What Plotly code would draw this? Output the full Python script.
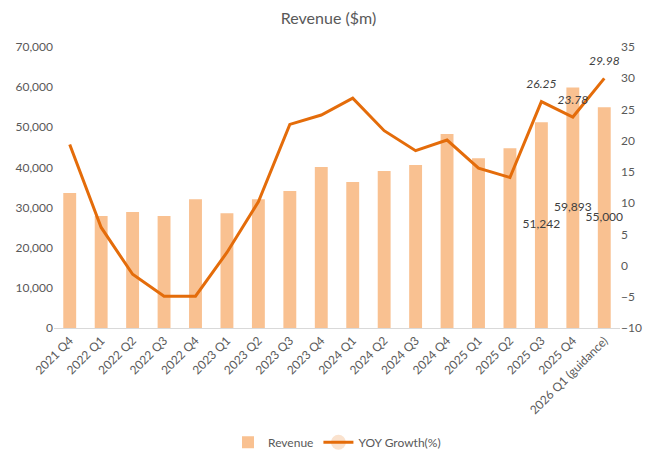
import plotly.graph_objects as go

quarters = ["2021 Q4", "2022 Q1", "2022 Q2", "2022 Q3", "2022 Q4", "2023 Q1", "2023 Q2",
            "2023 Q3", "2023 Q4", "2024 Q1", "2024 Q2", "2024 Q3", "2024 Q4", "2025 Q1",
            "2025 Q2", "2025 Q3", "2025 Q4", "2026 Q1 (guidance)"]
revenue = [33600, 27900, 28900, 27900, 32100, 28600, 32100, 34100, 40100, 36400,
           39100, 40600, 48300, 42300, 44800, 51242, 59893, 55000]
yoy = [19.4, 6.1, -1.4, -4.9, -4.9, 2.1, 10.2, 22.6, 24.1, 26.8, 21.6, 18.4, 20.1,
       15.6, 14.1, 26.25, 23.78, 29.98]
labelled = 15  # index from which values are labelled
yoy_labels = ["" for _ in range(labelled)] + [f"{v:.2f}" for v in yoy[labelled:]]

FONT = "Lato"
GREY = "#595959"

fig = go.Figure()
fig.add_trace(go.Bar(
    x=quarters, y=revenue, name="Revenue",
    marker=dict(color="#F9C191", line=dict(width=0)),
))
# revenue data labels, centred in the bar (Excel "center" label position)
fig.add_trace(go.Scatter(
    x=quarters[labelled:], y=[v / 2 for v in revenue[labelled:]],
    text=[f"{v:,}" for v in revenue[labelled:]], mode="text", textposition="middle center",
    textfont=dict(color="#404040", size=12, family=FONT), showlegend=False,
    cliponaxis=False, hoverinfo="skip",
))
fig.add_trace(go.Scatter(
    x=quarters, y=yoy, name="YOY Growth(%)", yaxis="y2", mode="lines+markers+text",
    line=dict(color="#E46C0A", width=3),
    marker=dict(size=15, opacity=0, color="#E46C0A"),
    text=yoy_labels, textposition="top center", cliponaxis=False,
    textfont=dict(color="#404040", size=12, family=FONT, style="italic"),
))

fig.update_layout(
    width=657, height=454,
    margin=dict(l=54, r=37, t=47, b=126, autoexpand=False),
    paper_bgcolor="white", plot_bgcolor="white",
    font=dict(family=FONT, color=GREY, size=12),
    title=dict(text="Revenue ($m)", x=0.5, xanchor="center", y=0.96, yanchor="middle",
               font=dict(size=16, color=GREY, family=FONT)),
    bargap=0.59,
    xaxis=dict(range=[-0.5, 17.5], tickangle=-45, showline=True, linecolor="#D9D9D9",
               linewidth=1, ticks="", showgrid=False, tickfont=dict(size=12, color=GREY)),
    yaxis=dict(range=[0, 70000], dtick=10000, tickformat=",", showgrid=False,
               zeroline=False, showline=False, ticks="", tickfont=dict(size=12, color=GREY)),
    yaxis2=dict(range=[-10, 35], dtick=5, overlaying="y", side="right", showgrid=False,
                zeroline=False, showline=False, ticks="", tickfont=dict(size=12, color=GREY)),
    legend=dict(orientation="h", x=0.5, xanchor="center", y=-0.355, yanchor="top",
                font=dict(size=12, color=GREY), itemwidth=30),
    showlegend=True,
)
fig.write_html("out.html", config={"displayModeBar": False},
               post_script="document.body.style.margin='0';document.body.style.padding='0';")
